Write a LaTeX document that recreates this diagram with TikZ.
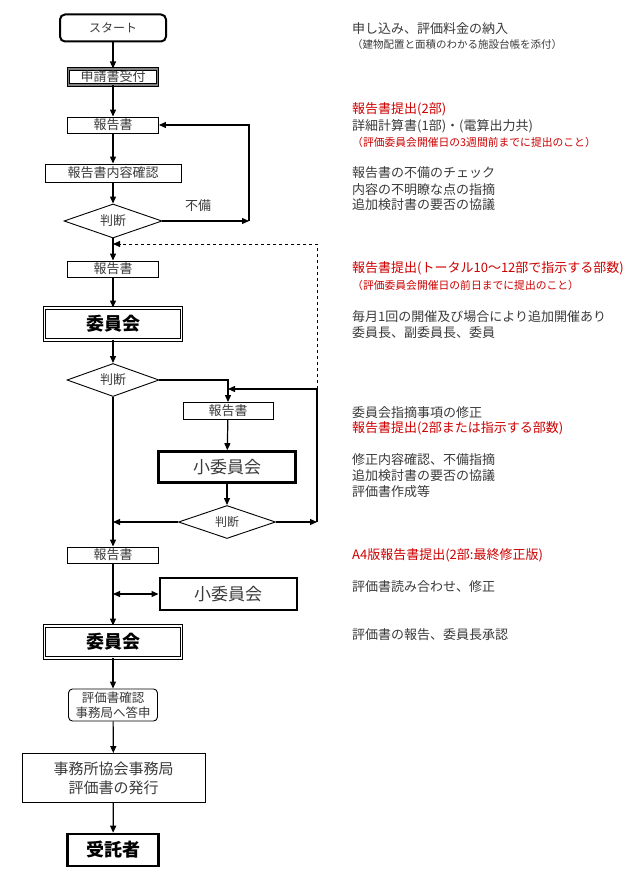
\documentclass[tikz,border=0pt]{standalone}
\usepackage{fontspec}
\setmainfont{Noto Sans CJK JP}
\usetikzlibrary{arrows.meta,shapes.geometric}
\definecolor{txtgray}{HTML}{3A3A3A}
\definecolor{txtred}{HTML}{CC0000}
\tikzset{
  fs/.style={font=\fontsize{#1}{#1}\selectfont},
  box/.style={draw=black, line width=0.9pt, inner sep=0pt, text=txtgray, fs=13},
  startbox/.style={box, rounded corners=5pt, line width=2pt, fs=12},
  dblbox/.style={draw=black, line width=0.9pt, double=white, double distance=1.6pt, inner sep=0pt, text=black},
  graydbl/.style={draw=black, line width=1pt, double=gray, double distance=1.6pt, inner sep=0pt, text=txtgray, fs=13},
  thickbox/.style={draw=black, line width=2.6pt, inner sep=0pt, text=txtgray, fs=17},
  judge/.style={diamond, draw=black, line width=0.9pt, inner sep=0pt, aspect=3, text=txtgray, fs=13},
  flow/.style={line width=1.2pt, -{Triangle[length=7pt,width=6pt]}},
  plainline/.style={line width=1.2pt},
  note/.style={anchor=west, inner sep=0pt, text=txtgray, fs=13},
  rednote/.style={anchor=west, inner sep=0pt, text=txtred, fs=13},
  smallnote/.style={anchor=west, inner sep=0pt, text=txtgray, fs=10.5},
  smallred/.style={anchor=west, inner sep=0pt, text=txtred, fs=10.8}
}
\begin{document}
\begin{tikzpicture}[x=1pt,y=-1pt]
\useasboundingbox (0,0) rectangle (640,880);
% left flow
\node[startbox, minimum width=106pt, minimum height=27pt] (start) at (113,28) {スタート};
\node[graydbl, minimum width=89pt, minimum height=16pt] (recv) at (113,77) {申請書受付};
\node[box, minimum width=91pt, minimum height=16pt] (rep1) at (113,125) {報告書};
\node[box, minimum width=136pt, minimum height=18pt] (check) at (113,173) {報告書内容確認};
\node[judge, minimum width=98pt, minimum height=34pt] (d1) at (113,221) {判断};
\coordinate (c1) at (249,221);
\node[inner sep=0pt, text=txtgray, fs=13] (lack) at (198,206) {不備};
\node[box, minimum width=91pt, minimum height=16pt] (rep2) at (113,269) {報告書};
\coordinate (j1) at (113,244);
\coordinate (c2) at (317,244);
\coordinate (c3) at (317,389);
\node[dblbox, minimum width=137pt, minimum height=32pt, font=\fontsize{18}{18}\selectfont\bfseries] (com1) at (113,324) {委員会};
\node[judge, minimum width=92pt, minimum height=33pt] (d2) at (113,380) {判断};
\coordinate (j2) at (228,389);
\node[box, minimum width=90pt, minimum height=17pt] (rep3) at (228,411) {報告書};
\node[thickbox, minimum width=137pt, minimum height=31pt] (sub1) at (227,467) {小委員会};
\node[judge, minimum width=97pt, minimum height=33pt, fs=12] (d3) at (227,522) {判断};
\coordinate (c4) at (317,522);
\coordinate (j3) at (113,522);
\node[box, minimum width=91pt, minimum height=16pt] (rep4) at (113,555) {報告書};
\coordinate (j4) at (113,594);
\node[draw=black, line width=2pt, inner sep=0pt, text=txtgray, fs=17, minimum width=137pt, minimum height=32pt] (sub2) at (228,594) {小委員会};
\node[dblbox, minimum width=137pt, minimum height=32pt, font=\fontsize{18}{18}\selectfont\bfseries] (com2) at (113,642) {委員会};
\node[box, rounded corners=4pt, align=center, minimum width=89pt, minimum height=32pt, font=\fontsize{12.5}{15}\selectfont] (conf) at (113,705) {評価書確認\\事務局へ答申};
\node[box, align=center, minimum width=183pt, minimum height=49pt, font=\fontsize{15}{19}\selectfont] (issue) at (113.5,778) {事務所協会事務局\\評価書の発行};
\node[draw=black, line width=2.6pt, inner sep=0pt, text=black, minimum width=91pt, minimum height=32pt, font=\fontsize{18}{18}\selectfont\bfseries] (client) at (113,850) {受託者};
% connectors
\draw[flow] (start) -- (recv);
\draw[flow] (recv) -- (rep1);
\draw[flow] (rep1) -- (check);
\draw[flow] (check) -- (d1);
\draw[flow] (d1.east) -- (c1);
\draw[flow] (c1) |- (rep1.east);
\draw[flow] (d1) -- (rep2);
\draw[flow, dashed, line width=1pt] (c3) -- (c2) -- (j1);
\draw[flow] (rep2) -- (com1);
\draw[flow] (com1) -- (d2);
\draw[flow] (d2.east) -| (rep3.north);
\draw[plainline] (c4) -- (c3);
\draw[flow] (c3) -- (j2);
\draw[flow] (rep3) -- (sub1);
\draw[flow] (sub1) -- (d3);
\draw[flow] (d3.east) -- (c4);
\draw[flow] (d3.west) -- (j3);
\draw[flow] (d2.south) -- (rep4.north);
\draw[flow] (rep4) -- (com2);
\draw[line width=1.2pt, {Triangle[length=7pt,width=6pt]}-{Triangle[length=7pt,width=6pt]}] (j4) -- (sub2.west);
\draw[flow] (com2) -- (conf);
\draw[flow] (conf) -- (issue);
\draw[flow] (issue) -- (client);
% right notes
\node[note] (n1) at (352,29) {申し込み、評価料金の納入};
\node[smallnote] (n2) at (352,45) {（建物配置と面積のわかる施設台帳を添付）};
\node[rednote] (n3) at (352,109) {報告書提出(2部)};
\node[note] (n4) at (352,126) {詳細計算書(1部)・(電算出力共)};
\node[smallred] (n5) at (352,142) {（評価委員会開催日の3週間前までに提出のこと）};
\node[note] (n6) at (352,173) {報告書の不備のチェック};
\node[note] (n7) at (352,190) {内容の不明瞭な点の指摘};
\node[note] (n8) at (352,205) {追加検討書の要否の協議};
\node[rednote] (n9) at (352,268) {報告書提出(トータル10～12部で指示する部数)};
\node[smallred] (n10) at (352,285) {（評価委員会開催日の前日までに提出のこと）};
\node[note] (n11) at (352,317) {毎月1回の開催及び場合により追加開催あり};
\node[note] (n12) at (352,333) {委員長、副委員長、委員};
\node[note] (n13) at (352,413) {委員会指摘事項の修正};
\node[rednote] (n14) at (352,428) {報告書提出(2部または指示する部数)};
\node[note] (n15) at (352,460) {修正内容確認、不備指摘};
\node[note] (n16) at (352,476) {追加検討書の要否の協議};
\node[note] (n17) at (352,492) {評価書作成等};
\node[rednote] (n18) at (352,555) {A4版報告書提出(2部:最終修正版)};
\node[note] (n19) at (352,587) {評価書読み合わせ、修正};
\node[note] (n20) at (352,635) {評価書の報告、委員長承認};
\end{tikzpicture}
\end{document}
